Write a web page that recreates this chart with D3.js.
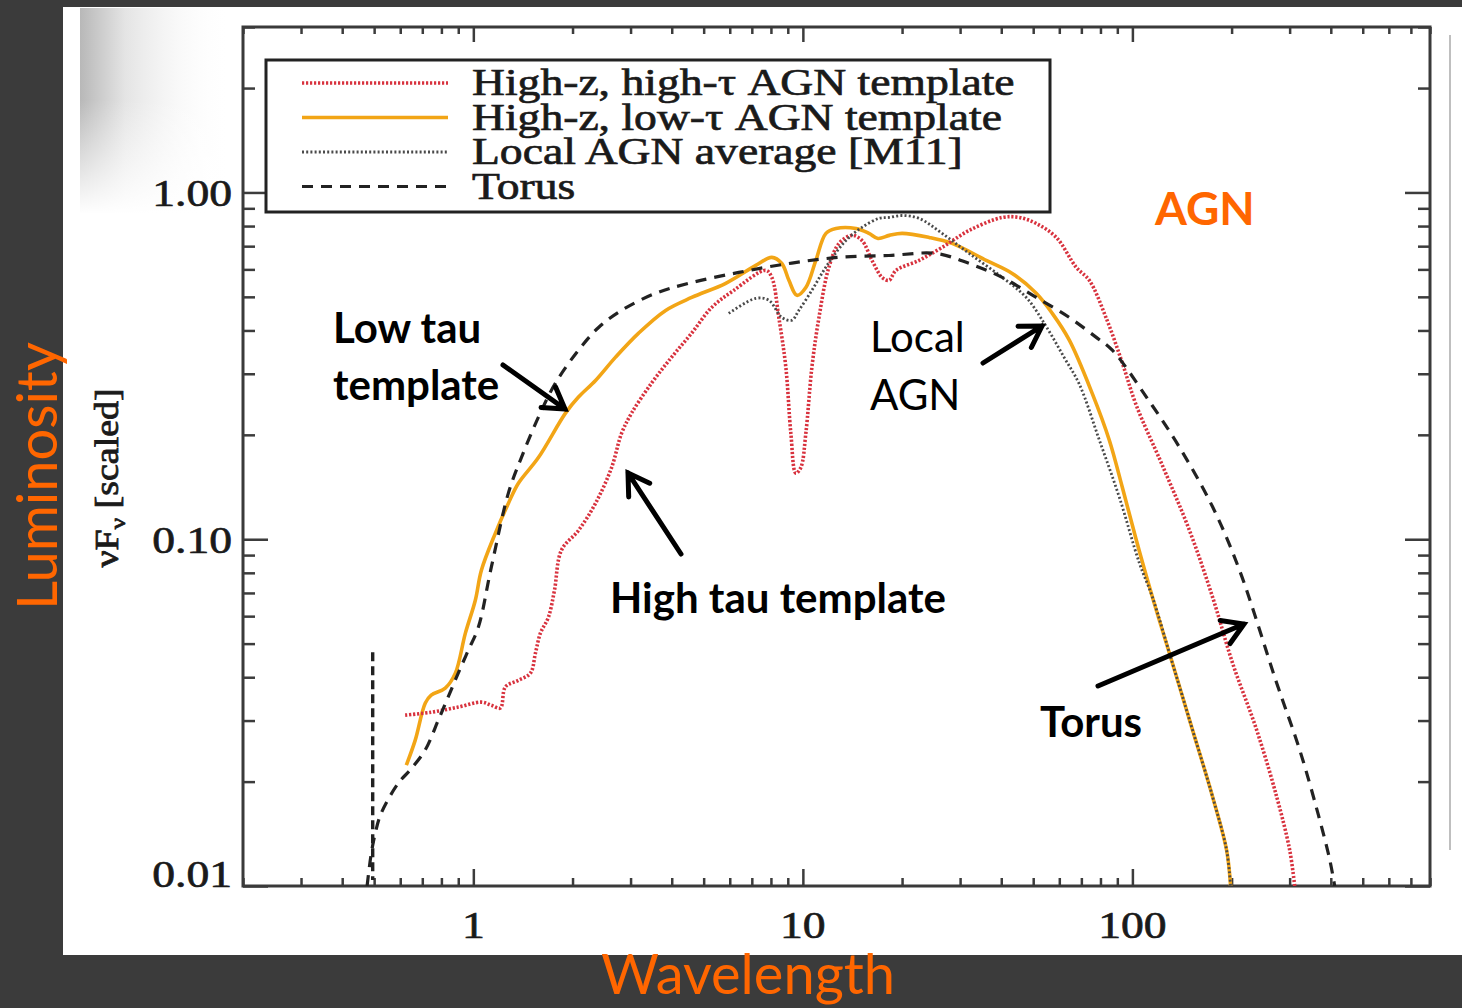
<!DOCTYPE html>
<html>
<head>
<meta charset="utf-8">
<script src="https://cdn.jsdelivr.net/npm/d3@7"></script>
<style>
  body { margin: 0; background: #3b3b3b; }
  svg { display: block; }
</style>
</head>
<body>
<script>
// wavelength (micron), nuFnu (scaled)
var highTau = [[0.621,0.0311],[0.745,0.0317],[0.900,0.0328],[1.058,0.0339],[1.134,0.0332],[1.208,0.0326],[1.251,0.0375],[1.370,0.0392],[1.490,0.0411],[1.543,0.0469],[1.598,0.0536],[1.690,0.0596],[1.763,0.0713],[1.851,0.0930],[2.085,0.106],[2.349,0.127],[2.628,0.161],[2.817,0.202],[3.021,0.231],[3.475,0.282],[3.998,0.335],[4.599,0.393],[5.290,0.466],[6.170,0.522],[7.718,0.596],[8.049,0.569],[8.453,0.436],[8.879,0.313],[9.195,0.202],[9.522,0.155],[9.860,0.161],[10.21,0.202],[10.65,0.313],[11.19,0.436],[11.99,0.608],[12.87,0.713],[14.09,0.752],[15.11,0.727],[16.21,0.637],[17.39,0.569],[18.26,0.558],[19.17,0.596],[22.52,0.637],[26.46,0.694],[31.96,0.777],[40.26,0.847],[45.35,0.847],[51.07,0.814],[58.75,0.742],[67.56,0.608],[74.0,0.558],[83.37,0.433],[93.23,0.322],[102.8,0.243],[123.4,0.163],[149.0,0.106],[175.1,0.0681],[201.4,0.0439],[238.2,0.0282],[274.0,0.0181],[300.1,0.0127],[310.8,0.0100]];

var lowTau = [[0.626,0.0223],[0.666,0.0263],[0.715,0.0337],[0.745,0.0355],[0.822,0.0372],[0.882,0.0411],[0.946,0.0536],[1.014,0.0667],[1.058,0.0814],[1.166,0.104],[1.278,0.127],[1.370,0.145],[1.576,0.172],[1.904,0.231],[2.085,0.257],[2.349,0.287],[2.702,0.335],[3.174,0.393],[3.834,0.457],[4.599,0.498],[5.834,0.547],[7.197,0.616],[8.049,0.650],[8.634,0.624],[9.07,0.558],[9.59,0.505],[10.21,0.532],[10.95,0.637],[11.75,0.762],[12.60,0.787],[14.49,0.787],[15.87,0.762],[16.9,0.737],[18.3,0.752],[20.0,0.762],[24.15,0.742],[28.38,0.713],[36.0,0.637],[43.18,0.584],[51.07,0.512],[57.13,0.448],[64.35,0.375],[75.57,0.263],[85.11,0.193],[93.23,0.141],[102.8,0.0993],[115.0,0.0681],[132.3,0.0439],[152.2,0.0282],[175.1,0.0181],[193.1,0.0127],[198.6,0.0100]];

var localAgn = [[5.958,0.448],[7.197,0.495],[7.882,0.489],[8.634,0.436],[9.26,0.428],[9.723,0.457],[10.65,0.522],[11.42,0.584],[12.25,0.646],[13.51,0.727],[15.11,0.793],[17.02,0.842],[18.26,0.847],[20.0,0.858],[22.52,0.842],[26.46,0.762],[31.96,0.667],[40.26,0.569],[47.63,0.498],[54.8,0.41],[62.0,0.335],[69.0,0.28],[79.4,0.193],[91.3,0.132],[105.0,0.0853],[115.0,0.0681],[132.3,0.0439],[152.2,0.0282],[175.1,0.0181],[193.1,0.0127],[198.6,0.0100]];

var torusSpike = [[0.495,0.0472],[0.495,0.0104]];
var torus = [[0.476,0.0100],[0.490,0.0124],[0.504,0.0142],[0.525,0.0162],[0.592,0.0198],[0.643,0.0216],[0.715,0.0247],[0.783,0.0301],[0.839,0.0351],[0.900,0.0411],[0.966,0.0479],[1.036,0.0558],[1.134,0.0831],[1.278,0.136],[1.399,0.172],[1.576,0.225],[1.775,0.282],[2.085,0.351],[2.399,0.408],[2.817,0.457],[3.574,0.512],[4.504,0.547],[6.391,0.588],[9.07,0.624],[12.87,0.650],[18.26,0.658],[25.37,0.667],[31.96,0.624],[40.26,0.569],[51.07,0.498],[64.35,0.436],[77.7,0.382],[86.9,0.351],[110.3,0.257],[139.0,0.184],[175.1,0.124],[211.4,0.0814],[274.0,0.0385],[321.8,0.0247],[365.0,0.0163],[397.1,0.0119],[411,0.0100]];

var xMajor = [1, 10, 100];
var xLabels = ["1", "10", "100"];
var yMajor = [0.01, 0.1, 1];
var yLabels = ["0.01", "0.10", "1.00"];
var legendLabels = ["High-z, high-\u03c4 AGN template", "High-z, low-\u03c4 AGN template", "Local AGN average [M11]", "Torus"];

var W = 1462, H = 1008;
var svg = d3.select("body").append("svg").attr("width", W).attr("height", H);

var defs = svg.append("defs");
var hg = defs.append("linearGradient").attr("id", "hshade");
hg.append("stop").attr("offset", 0).attr("stop-color", "#b8b8b8");
hg.append("stop").attr("offset", 0.3).attr("stop-color", "#e4e4e4");
hg.append("stop").attr("offset", 1).attr("stop-color", "#fff").attr("stop-opacity", 0);
var vg = defs.append("linearGradient").attr("id", "vfade").attr("x1", 0).attr("x2", 0).attr("y1", 0).attr("y2", 1);
vg.append("stop").attr("offset", 0).attr("stop-color", "#fff").attr("stop-opacity", 0);
vg.append("stop").attr("offset", 1).attr("stop-color", "#fff").attr("stop-opacity", 1);
defs.append("clipPath").attr("id", "plotclip")
  .append("rect").attr("x", 243).attr("y", 27).attr("width", 1187).attr("height", 859);

svg.append("rect").attr("width", W).attr("height", H).attr("fill", "#3b3b3b");
svg.append("rect").attr("x", 63).attr("y", 7).attr("width", W - 63).attr("height", 948).attr("fill", "#fff");
svg.append("rect").attr("x", 80).attr("y", 8).attr("width", 150).attr("height", 205).attr("fill", "url(#hshade)");
svg.append("rect").attr("x", 80).attr("y", 100).attr("width", 150).attr("height", 114).attr("fill", "url(#vfade)");
svg.append("line").attr("x1", 1450).attr("x2", 1450).attr("y1", 35).attr("y2", 850)
  .attr("stroke", "#aaa").attr("stroke-width", 1.5);

var x = d3.scaleLog().domain([0.2, 800]).range([243, 1430]);
var y = d3.scaleLog().domain([0.01, 3]).range([886, 27]);

var xMinor = x.ticks().filter(function(v) { return xMajor.indexOf(v) < 0; });
var yMinor = y.ticks().filter(function(v) { return yMajor.indexOf(v) < 0; });

function ticks(axis, vals, size, tx, ty) {
  svg.append("g")
    .attr("transform", "translate(" + tx + "," + ty + ")")
    .call(axis.tickValues(vals).tickSize(size).tickSizeOuter(0).tickFormat(""))
    .call(function(g) { g.select(".domain").remove(); })
    .selectAll("line").attr("stroke", "#3c3c3c").attr("stroke-width", 2.5);
}
ticks(d3.axisTop(x), xMinor, 8, 0, 886);
ticks(d3.axisTop(x), xMajor, 17, 0, 886);
ticks(d3.axisBottom(x), xMinor, 7, 0, 27);
ticks(d3.axisBottom(x), xMajor, 15, 0, 27);
ticks(d3.axisRight(y), yMinor, 12, 243, 0);
ticks(d3.axisRight(y), yMajor, 25, 243, 0);
ticks(d3.axisLeft(y), yMinor, 12, 1430, 0);
ticks(d3.axisLeft(y), yMajor, 25, 1430, 0);

svg.append("rect").attr("x", 243).attr("y", 27).attr("width", 1187).attr("height", 859)
  .attr("fill", "none").attr("stroke", "#3a3a3a").attr("stroke-width", 3);

// serif labels, slightly stretched and heavy like the source scan
function serif(txt, tx, ty, size, anchor, rot) {
  return svg.append("text")
    .attr("transform", "translate(" + tx + "," + ty + ") rotate(" + (rot || 0) + ") scale(1.2,1)")
    .attr("text-anchor", anchor)
    .attr("font-family", "Liberation Serif, Times New Roman, serif")
    .attr("font-size", size)
    .attr("fill", "#1a1a1a").attr("stroke", "#1a1a1a").attr("stroke-width", 0.7)
    .text(txt);
}
xMajor.forEach(function(v, i) { serif(xLabels[i], x(v), 938, 38, "middle"); });
yMajor.forEach(function(v, i) { serif(yLabels[i], 232, Math.min(y(v) + 14, 887), 38, "end"); });

var yt = svg.append("text")
  .attr("transform", "translate(118,478) rotate(-90) scale(1.15,1)")
  .attr("text-anchor", "middle")
  .attr("font-family", "Liberation Serif, Times New Roman, serif")
  .attr("font-size", 33).attr("fill", "#1a1a1a").attr("stroke", "#1a1a1a").attr("stroke-width", 0.8);
yt.append("tspan").text("\u03bdF");
yt.append("tspan").attr("font-size", 22).attr("dy", 7).text("\u03bd");
yt.append("tspan").attr("dy", -7).text(" [scaled]");

// curves
var line = d3.line().x(function(d) { return x(d[0]); }).y(function(d) { return y(d[1]); });
var smooth = d3.line().x(function(d) { return x(d[0]); }).y(function(d) { return y(d[1]); })
  .curve(d3.curveCatmullRom.alpha(0.5));
var series = [
  { data: lowTau, gen: smooth, color: "#f2a516", width: 3.6, dash: null },
  { data: highTau, gen: smooth, color: "#d8323e", width: 3.6, dash: "2.2,1.8" },
  { data: localAgn, gen: smooth, color: "#4a4a4a", width: 2.8, dash: "2,2.2" },
  { data: torus, gen: smooth, color: "#222", width: 3.2, dash: "11,8" }
];
var plot = svg.append("g").attr("clip-path", "url(#plotclip)");
plot.append("path").attr("d", line(torusSpike))
  .attr("fill", "none").attr("stroke", "#222").attr("stroke-width", 3.4).attr("stroke-dasharray", "9,5");
series.forEach(function(s) {
  plot.append("path").attr("d", s.gen(s.data))
    .attr("fill", "none").attr("stroke", s.color).attr("stroke-width", s.width)
    .attr("stroke-dasharray", s.dash).attr("stroke-linejoin", "round");
});

// legend
svg.append("rect").attr("x", 266).attr("y", 60).attr("width", 784).attr("height", 152)
  .attr("fill", "#fff").attr("stroke", "#222").attr("stroke-width", 3);
var legendStyles = [series[1], series[0], series[2], series[3]];
legendLabels.forEach(function(lab, i) {
  var cy = 83 + i * 34.5;
  var s = legendStyles[i];
  svg.append("line").attr("x1", 302).attr("x2", 448).attr("y1", cy).attr("y2", cy)
    .attr("stroke", s.color).attr("stroke-width", s.width).attr("stroke-dasharray", s.dash);
  serif(lab, 472, cy + 12, 38, "start");
});

// annotations
var notes = [
  { t: "Low tau", x: 333, y: 343, w: "bold" },
  { t: "template", x: 333, y: 400, w: "bold" },
  { t: "Local", x: 870, y: 352, w: "normal" },
  { t: "AGN", x: 870, y: 410, w: "normal" },
  { t: "High tau template", x: 610, y: 613, w: "bold" },
  { t: "Torus", x: 1040, y: 737, w: "bold" }
];
notes.forEach(function(n) {
  svg.append("text").attr("x", n.x).attr("y", n.y)
    .attr("font-family", "Lato, Open Sans, sans-serif").attr("font-size", 42)
    .attr("font-weight", n.w).attr("fill", "#000").text(n.t);
});
svg.append("text").attr("x", 1155).attr("y", 225)
  .attr("font-family", "Lato, sans-serif").attr("font-size", 46).attr("font-weight", "bold")
  .attr("fill", "#ff6600").text("AGN");

var arrows = [[503, 365, 565, 409], [681, 554, 628, 473], [983, 363, 1042, 326], [1098, 686, 1244, 624]];
arrows.forEach(function(a) {
  var ang = Math.atan2(a[3] - a[1], a[2] - a[0]), L = 24, s = 0.55;
  var p = d3.path();
  p.moveTo(a[0], a[1]); p.lineTo(a[2], a[3]);
  p.moveTo(a[2] - L * Math.cos(ang - s), a[3] - L * Math.sin(ang - s));
  p.lineTo(a[2], a[3]);
  p.lineTo(a[2] - L * Math.cos(ang + s), a[3] - L * Math.sin(ang + s));
  svg.append("path").attr("d", p.toString()).attr("fill", "none")
    .attr("stroke", "#000").attr("stroke-width", 5).attr("stroke-linecap", "round").attr("stroke-linejoin", "miter");
});

// slide axis titles
svg.append("text").attr("x", 748).attr("y", 994).attr("text-anchor", "middle")
  .attr("font-family", "Lato, sans-serif").attr("font-size", 56).attr("fill", "#ff6600")
  .text("Wavelength");
svg.append("text").attr("transform", "translate(57,476) rotate(-90)").attr("text-anchor", "middle")
  .attr("font-family", "Lato, sans-serif").attr("font-size", 56).attr("fill", "#ff6600")
  .text("Luminosity");
</script>
</body>
</html>
